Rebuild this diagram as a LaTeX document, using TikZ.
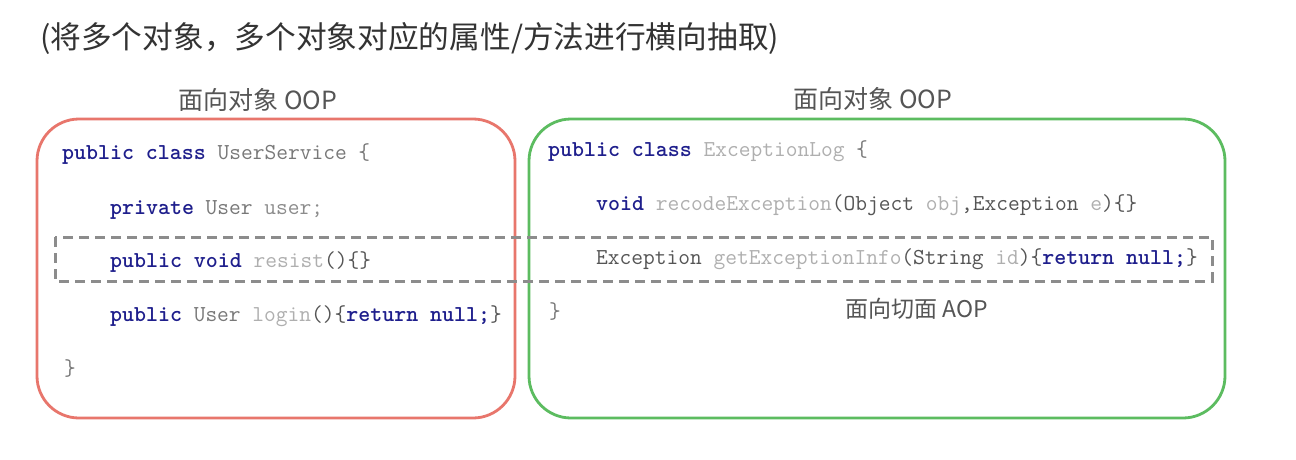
\documentclass[tikz,border=0pt]{standalone}
\usepackage{fontspec}
\newfontfamily\cjk{Noto Sans CJK SC}
\definecolor{kw}{RGB}{30,30,140}
\definecolor{dk}{RGB}{85,85,85}
\definecolor{md}{RGB}{120,120,120}
\definecolor{lt}{RGB}{175,175,175}
\definecolor{redb}{RGB}{232,118,108}
\definecolor{greenb}{RGB}{92,188,96}
\definecolor{dashc}{RGB}{140,140,140}
\definecolor{lab}{RGB}{85,85,85}
\newcommand{\kw}[1]{\textcolor{kw}{\textbf{#1}}}
\newcommand{\dk}[1]{\textcolor{dk}{#1}}
\newcommand{\md}[1]{\textcolor{md}{#1}}
\newcommand{\lt}[1]{\textcolor{lt}{#1}}
\tikzset{
  code/.style={anchor=base west, inner sep=0pt, font=\fontsize{22.8}{22.8}\selectfont\ttfamily},
  lbl/.style={inner sep=0pt, text=lab, font=\fontsize{25}{25}\selectfont\cjk},
  ttl/.style={anchor=west, inner sep=0pt, text=black!80, font=\fontsize{30.7}{30.7}\selectfont\cjk},
  boxr/.style={draw=redb, line width=2.8pt, rounded corners=42pt},
  boxg/.style={draw=greenb, line width=2.8pt, rounded corners=42pt},
  dbox/.style={draw=dashc, line width=3pt, dash pattern=on 10pt off 6pt}
}
\begin{document}
\begin{tikzpicture}[x=1pt,y=-1pt]
\useasboundingbox[fill=white] (0,0) rectangle (1296,460);
\node[ttl] (title) at (40,38) {(将多个对象，多个对象对应的属性/方法进行横向抽取)};
\node[lbl] (oop1) at (258,100) {面向对象 OOP};
\node[lbl] (oop2) at (873,99) {面向对象 OOP};
\node[lbl, font=\fontsize{23}{23}\selectfont\cjk] (aop) at (917,309) {面向切面 AOP};
\draw[boxr] (37,119) rectangle (515,418);
\draw[boxg] (529,119) rectangle (1225,418);
\draw[dbox] (55,237) rectangle (1212,281);
% left class
\node[code] (l1) at (62,159) {\kw{public class} \md{UserService \{}};
\node[code] (l2) at (110,214) {\kw{private} \md{User} \textcolor{black!45}{user;}};
\node[code] (l3) at (110,267) {\kw{public void} \lt{resist}\dk{()\{\}}};
\node[code] (l4) at (110,321) {\kw{public} \md{User} \lt{login}\dk{()\{}\kw{return null;}\dk{\}}};
\node[code] (l5) at (64,375) {\md{\}}};
% right class
\node[code] (r1) at (548,156) {\kw{public class} \lt{ExceptionLog} \md{\{}};
\node[code] (r2) at (596,210) {\kw{void} \lt{recodeException}\dk{(Object} \lt{obj}\dk{,Exception} \lt{e}\dk{)\{\}}};
\node[code] (r3) at (596,264) {\dk{Exception} \lt{getExceptionInfo}\dk{(String} \lt{id}\dk{)\{}\kw{return null;}\dk{\}}};
\node[code] (r4) at (549,318) {\md{\}}};
\end{tikzpicture}
\end{document}
